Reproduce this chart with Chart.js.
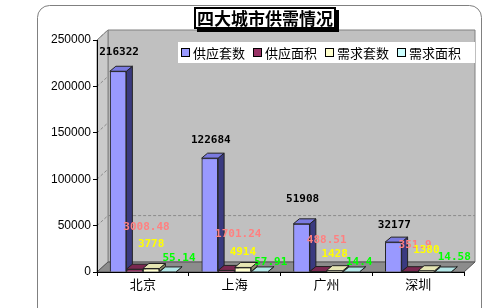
<!DOCTYPE html>
<html>
<head>
<meta charset="utf-8">
<script src="https://cdn.jsdelivr.net/npm/chart.js@4.4.0/dist/chart.umd.min.js"></script>
<style>
  html, body { margin: 0; padding: 0; background: #fff; }
  canvas { display: block; }
</style>
</head>
<body>
<canvas id="myChart" width="487" height="308"></canvas>
<script>
const cities = ["北京", "上海", "广州", "深圳"];
const seriesNames = ["供应套数", "供应面积", "需求套数", "需求面积"];
const supplyUnits = [216322, 122684, 51908, 32177];
const supplyArea = [3008.48, 1701.24, 488.51, 351.9];
const demandUnits = [3778, 4914, 1428, 1380];
const demandArea = [55.14, 57.91, 14.4, 14.58];
const yTicks = [0, 50000, 100000, 150000, 200000, 250000];
const chartTitle = "四大城市供需情况";

// styles
const fronts = ["#9999ff", "#993366", "#ffffcc", "#ccffff"];
const sides = ["#3a3a80", "#4d1a33", "#8a8a66", "#669999"];
const tops = ["#7a7ae0", "#7a2850", "#e6e6b3", "#b3e6e6"];
const labelColors = ["#000000", "#ff8080", "#ffff00", "#00ff00"];
// how far each value label sits above its bar (px), per series, per city
const labelLift = [[19, 18, 25, 17], [42, 36, 31, 27], [24, 15, 17, 21], [14, 10, 10, 15]];
const labelShift = [0, -3, -5, 3];
const wallDepth = [11, -10];
const barDepth = [6, -5];

function poly(ctx, pts, fill, stroke) {
  ctx.beginPath();
  ctx.moveTo(pts[0][0], pts[0][1]);
  for (let k = 1; k < pts.length; k++) ctx.lineTo(pts[k][0], pts[k][1]);
  ctx.closePath();
  if (fill) { ctx.fillStyle = fill; ctx.fill(); }
  if (stroke) { ctx.strokeStyle = stroke; ctx.lineWidth = 1; ctx.stroke(); }
}

const backdrop = {
  id: "backdrop",
  beforeDraw(chart) {
    const ctx = chart.ctx, a = chart.chartArea, y = chart.scales.y;
    const dx = wallDepth[0], dy = wallDepth[1];
    ctx.save();
    ctx.fillStyle = "#fff";
    ctx.fillRect(0, 0, chart.width, chart.height);
    // outer rounded frame
    ctx.strokeStyle = "#808080";
    ctx.lineWidth = 1;
    ctx.beginPath();
    ctx.moveTo(37.5, 308);
    ctx.lineTo(37.5, 18);
    ctx.arcTo(37.5, 5.5, 50, 5.5, 12);
    ctx.lineTo(469, 5.5);
    ctx.arcTo(481.5, 5.5, 481.5, 18, 12);
    ctx.lineTo(481.5, 308);
    ctx.stroke();
    // walls and floor
    poly(ctx, [[a.left + dx, a.top + dy], [a.right + dx, a.top + dy], [a.right + dx, a.bottom + dy], [a.left + dx, a.bottom + dy]], "#c0c0c0", "#808080");
    poly(ctx, [[a.left, a.top], [a.left + dx, a.top + dy], [a.left + dx, a.bottom + dy], [a.left, a.bottom]], "#cacaca", "#808080");
    poly(ctx, [[a.left, a.bottom], [a.left + dx, a.bottom + dy], [a.right + dx, a.bottom + dy], [a.right, a.bottom]], "#8c8c8c", "#555");
    // gridlines
    ctx.setLineDash([3, 2]);
    ctx.strokeStyle = "#8a8a8a";
    yTicks.forEach(v => {
      if (v == 0) return;
      const gy = y.getPixelForValue(v);
      ctx.beginPath();
      ctx.moveTo(a.left, gy);
      ctx.lineTo(a.left + dx, gy + dy);
      if (v == 50000) ctx.lineTo(a.right + dx, gy + dy);
      ctx.stroke();
    });
    ctx.restore();
  }
};

const bars3d = {
  id: "bars3d",
  afterDatasetsDraw(chart) {
    const ctx = chart.ctx;
    const dx = barDepth[0], dy = barDepth[1];
    ctx.save();
    for (let i = 0; i < chart.data.datasets.length; i++) {
      chart.getDatasetMeta(i).data.forEach(bar => {
        bar.draw(ctx);
        const l = bar.x - bar.width / 2, r = bar.x + bar.width / 2, t = bar.y, b = bar.base;
        poly(ctx, [[r, b], [r + dx, b + dy], [r + dx, t + dy], [r, t]], sides[i], "#222");
        poly(ctx, [[l, t], [l + dx, t + dy], [r + dx, t + dy], [r, t]], tops[i], "#222");
      });
    }
    ctx.restore();
  }
};

const overlay = {
  id: "overlay",
  afterDraw(chart) {
    const ctx = chart.ctx;
    ctx.save();
    // value labels
    ctx.font = "bold 11px 'DejaVu Sans Mono'";
    ctx.textBaseline = "middle";
    chart.data.datasets.forEach((ds, i) => {
      chart.getDatasetMeta(i).data.forEach((bar, j) => {
        ctx.fillStyle = labelColors[i];
        const ly = bar.y - labelLift[i][j];
        if (i == 0) {
          ctx.textAlign = "center";
          ctx.fillText(String(ds.data[j]), bar.x + 1, ly);
        } else {
          ctx.textAlign = "left";
          ctx.fillText(String(ds.data[j]), bar.x - bar.width / 2 + labelShift[i], ly);
        }
      });
    });
    // legend
    ctx.fillStyle = "#fff";
    ctx.fillRect(178, 42, 297, 21);
    ctx.font = "13px 'Noto Sans CJK SC'";
    ctx.textAlign = "left";
    let lx = 181;
    seriesNames.forEach((name, i) => {
      ctx.fillStyle = fronts[i];
      ctx.fillRect(lx + 0.5, 48.5, 8, 8);
      ctx.strokeStyle = "#000";
      ctx.lineWidth = 1;
      ctx.strokeRect(lx + 0.5, 48.5, 8, 8);
      ctx.fillStyle = "#000";
      ctx.fillText(name, lx + 12, 53);
      lx += 12 + ctx.measureText(name).width + 8;
    });
    // title box
    ctx.fillStyle = "#000";
    ctx.fillRect(197, 10, 142, 22);
    ctx.fillStyle = "#fff";
    ctx.fillRect(194, 7, 142, 22);
    ctx.lineWidth = 2;
    ctx.strokeRect(195, 8, 140, 20);
    ctx.fillStyle = "#000";
    ctx.font = "bold 17px 'Noto Sans CJK SC'";
    ctx.textAlign = "center";
    ctx.fillText(chartTitle, 265, 18.5);
    ctx.restore();
  }
};

const ctx = document.getElementById("myChart").getContext("2d");
const myChart = new Chart(ctx, {
  type: "bar",
  data: {
    labels: cities,
    datasets: [
      { label: seriesNames[0], data: supplyUnits },
      { label: seriesNames[1], data: supplyArea },
      { label: seriesNames[2], data: demandUnits },
      { label: seriesNames[3], data: demandArea },
    ].map((d, i) => Object.assign(d, {
      backgroundColor: fronts[i],
      borderColor: "#222",
      borderWidth: 1,
      categoryPercentage: 0.72,
      barPercentage: 1,
    })),
  },
  options: {
    responsive: false,
    animation: false,
    layout: { padding: { left: 37, right: 23, top: 40, bottom: 14 } },
    plugins: {
      legend: { display: false },
      tooltip: { enabled: false },
    },
    scales: {
      x: {
        grid: { drawOnChartArea: false, tickLength: 4, color: "#000" },
        border: { color: "#000" },
        ticks: { color: "#000", padding: 0, font: { family: "Noto Sans CJK SC", size: 13 } },
        afterFit(s) { s.height = 22; },
      },
      y: {
        min: yTicks[0],
        max: yTicks[yTicks.length - 1],
        afterBuildTicks(s) { s.ticks = yTicks.map(v => ({ value: v })); },
        grid: { drawOnChartArea: false, tickLength: 4, color: "#000" },
        border: { color: "#000" },
        ticks: {
          color: "#000", padding: 2,
          font: { family: "Liberation Sans", size: 12 },
          callback: v => String(v),
        },
        afterFit(s) { s.width = 60; },
      },
    },
  },
  plugins: [backdrop, bars3d, overlay],
});
</script>
</body>
</html>
